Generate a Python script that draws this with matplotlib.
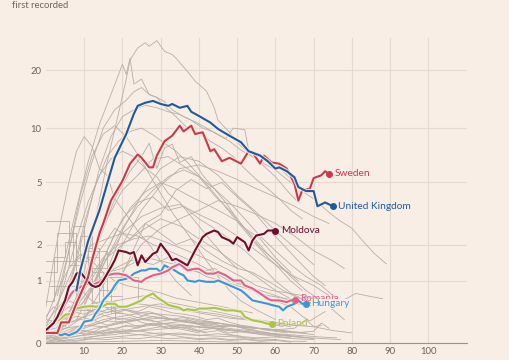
import numpy as np
import matplotlib
matplotlib.use("Agg")
import matplotlib.pyplot as plt
import matplotlib.patheffects as pe

# highlighted countries: day since first recorded, daily deaths per million
uk_days = [8, 9, 11, 14, 16, 18, 21, 23, 24, 26, 28, 30, 32, 33, 35, 37, 38, 40, 43, 45,
           48, 51, 53, 56, 58, 60, 61, 63, 65, 66, 68, 70, 71, 73, 75]
uk_vals = [0.8, 1.25, 2.1, 3.4, 4.9, 6.9, 9.3, 11.9, 13.1, 13.6, 13.9, 13.4, 13.1, 13.4, 12.8,
           13.1, 12.2, 11.6, 10.7, 9.9, 9.1, 8.4, 7.5, 7.1, 6.6, 6.0, 6.1, 5.8, 5.35, 4.7,
           4.45, 4.45, 3.6, 3.8, 3.6]

se_days = [0, 3, 4, 6, 8, 11, 12, 14, 15, 17, 20, 22, 24, 25, 27, 28, 29, 31, 33, 35, 36, 38,
           39, 41, 43, 44, 46, 48, 51, 53, 54, 56, 57, 59, 61, 63, 65, 66, 67, 69, 70, 72, 73, 74]
se_vals = [0.12, 0.12, 0.26, 0.26, 0.56, 1.08, 1.5, 2.4, 2.8, 3.9, 5.1, 6.4, 7.2, 6.9, 6.1, 6.1,
           7.1, 8.5, 9.1, 10.3, 9.6, 10.3, 9.3, 9.5, 7.5, 7.7, 6.6, 6.9, 6.4, 7.5, 7.4, 6.4, 7.1,
           6.5, 6.4, 6.0, 4.9, 3.9, 4.5, 4.6, 5.3, 5.5, 5.8, 5.6]

md_days = [0, 2, 3, 5, 6, 7, 8, 9, 10, 12, 13, 14, 15, 17, 18, 19, 21, 22, 23, 24, 25, 26, 28,
           29, 30, 32, 33, 34, 35, 37, 39, 40, 41, 42, 44, 45, 46, 48, 49, 50, 52, 53, 54, 55,
           57, 58, 60]
md_vals = [0.155, 0.25, 0.34, 0.61, 0.87, 0.98, 1.17, 1.21, 1.09, 0.9, 0.87, 0.9, 1.01, 1.33,
           1.52, 1.81, 1.76, 1.71, 1.76, 1.38, 1.66, 1.47, 1.71, 1.76, 2.03, 1.71, 1.52, 1.56,
           1.5, 1.38, 1.81, 2.03, 2.26, 2.38, 2.51, 2.45, 2.26, 2.14, 2.03, 2.26, 2.08, 1.81,
           2.14, 2.32, 2.38, 2.51, 2.51]

ro_days = [0, 4, 5, 7, 9, 11, 12, 14, 16, 18, 19, 21, 23, 25, 26, 28, 30, 32, 33, 35, 37, 39,
           40, 42, 44, 45, 47, 49, 51, 52, 54, 56, 58, 59, 61, 63, 64, 65]
ro_vals = [0.13, 0.39, 0.55, 0.77, 0.87, 0.94, 0.9, 0.98, 1.13, 1.17, 1.17, 1.13, 1.01, 0.98,
           1.05, 1.13, 1.17, 1.25, 1.33, 1.42, 1.25, 1.29, 1.29, 1.17, 1.17, 1.21, 1.13, 1.01,
           1.01, 0.9, 0.84, 0.74, 0.64, 0.61, 0.61, 0.58, 0.61, 0.61]

hu_days = [1, 2, 4, 5, 6, 8, 9, 10, 12, 13, 14, 15, 17, 18, 19, 21, 22, 23, 25, 26, 27, 29, 30,
           31, 32, 33, 35, 36, 37, 39, 40, 42, 44, 45, 47, 49, 51, 52, 54, 56, 58, 59, 61, 62,
           63, 65, 66, 67, 68]
hu_vals = [0.12, 0.13, 0.09, 0.11, 0.09, 0.13, 0.18, 0.27, 0.29, 0.39, 0.47, 0.61, 0.77, 0.9,
           1.01, 1.05, 1.09, 1.17, 1.25, 1.25, 1.29, 1.29, 1.21, 1.38, 1.33, 1.29, 1.17, 1.13,
           1.01, 0.98, 1.01, 0.98, 0.98, 1.01, 0.94, 0.87, 0.8, 0.74, 0.61, 0.58, 0.55, 0.53,
           0.5, 0.44, 0.5, 0.55, 0.61, 0.55, 0.55]

pl_days = [0, 2, 4, 5, 7, 8, 10, 12, 13, 15, 16, 18, 19, 21, 23, 25, 26, 28, 29, 31, 32, 35,
           36, 37, 39, 40, 42, 44, 45, 47, 49, 51, 52, 54, 56, 58, 59]
pl_vals = [0.155, 0.24, 0.32, 0.37, 0.39, 0.47, 0.5, 0.51, 0.5, 0.51, 0.55, 0.55, 0.5, 0.5,
           0.55, 0.61, 0.67, 0.74, 0.67, 0.58, 0.53, 0.48, 0.44, 0.46, 0.44, 0.47, 0.47, 0.48,
           0.47, 0.44, 0.44, 0.42, 0.34, 0.29, 0.27, 0.24, 0.24]

# other countries, (day, value) pairs
grey_high = [
    [(7, 0.4), (10, 1.2), (13, 3), (16, 6.5), (19, 12), (21, 18), (22, 22.5), (24, 25.9), (26, 27.5),
     (27, 26.4), (29, 28.2), (30, 26.5), (31, 24.9), (33, 24), (34, 23), (37, 19.7), (39, 17.6),
     (42, 15.6), (44, 12.8), (45, 11), (48, 9.5), (51, 8), (54, 7), (57, 6.2), (60, 5.4), (63, 4.5),
     (66, 3.8)],
    [(2, 0.6), (5, 1.6), (8, 3.5), (11, 6.5), (14, 10.5), (17, 15), (19, 19), (20, 21.4), (21, 19),
     (22, 23), (23, 17), (25, 18), (27, 15), (29, 14.5), (31, 13), (34, 11.5), (37, 10), (40, 9.5),
     (43, 8.5), (46, 7.8), (49, 7), (52, 6), (55, 5.2), (58, 4.6), (61, 4), (64, 3.4), (67, 3)],
    [(3, 0.7), (6, 1.8), (9, 3.8), (12, 6.5), (15, 10), (18, 12.5), (21, 14), (23, 15.5), (25, 16.3),
     (27, 15), (29, 14.5), (31, 13.8), (33, 12.5), (36, 11.5), (39, 10.8), (42, 10), (45, 9.2),
     (48, 8.5), (51, 7.6), (54, 7), (57, 6.4), (60, 5.9), (63, 5.2), (66, 4.6), (70, 4), (74, 3.3),
     (77, 2.9), (80, 2.6), (83, 2.1), (86, 1.7), (89, 1.42)],
    [(5, 0.5), (8, 1.5), (11, 3.2), (14, 6), (17, 9), (20, 11.5), (23, 12.5), (26, 13.2), (29, 12.8),
     (32, 12.2), (35, 11.8), (38, 11), (41, 10), (44, 9.5), (47, 8.8), (49, 10), (52, 9.8), (53, 7.6),
     (56, 7.2), (59, 6.5), (62, 5.8), (65, 5)],
    [(4, 0.4), (7, 1.2), (10, 2.8), (13, 4.8), (16, 7), (19, 8.5), (22, 9.6), (25, 10), (28, 9.2),
     (31, 8.3), (34, 7.5), (37, 6.5), (40, 5.5), (43, 4.6), (46, 3.8), (49, 3.1), (52, 2.5), (55, 2),
     (58, 1.6), (61, 1.3), (64, 1.0), (67, 0.8)],
    [(6, 0.3), (10, 0.9), (14, 2.2), (18, 4), (22, 5.8), (25, 7), (27, 8.3), (29, 6), (31, 7.8),
     (33, 8.2), (35, 6.5), (38, 7), (41, 5.5), (44, 4.6), (47, 3.8), (50, 3), (53, 2.4), (56, 1.9),
     (60, 1.5), (64, 1.1), (68, 0.8), (72, 0.6)],
    [(8, 0.3), (12, 0.8), (16, 1.6), (20, 2.6), (24, 3.6), (28, 4.5), (32, 5.4), (36, 5.9), (40, 5.4),
     (44, 4.6), (48, 3.8), (52, 3), (56, 2.3), (60, 1.8), (64, 1.4), (68, 1.1), (72, 0.9), (75, 0.7),
     (78, 0.5)],
    [(3, 0.5), (6, 1.8), (9, 4.2), (12, 7), (15, 9.3), (18, 10.3), (21, 9), (24, 7.2), (27, 5.6),
     (30, 4.3), (33, 3.3), (36, 2.6), (39, 2), (42, 1.5), (45, 1.1), (48, 0.8), (51, 0.6), (55, 0.45),
     (60, 0.3)],
    [(10, 0.5), (14, 1.3), (18, 2.4), (22, 3.5), (26, 4.4), (30, 5), (34, 4.6), (38, 4.1), (42, 3.7),
     (46, 3.3), (50, 2.9), (54, 2.3), (58, 1.7), (62, 1.3), (66, 1.0)],
    [(12, 0.8), (16, 1.8), (20, 3), (24, 3.8), (28, 4.1), (32, 3.4), (36, 3.6), (40, 3), (44, 2.6),
     (48, 2.2), (52, 1.8), (56, 1.4), (60, 1), (64, 0.75), (68, 0.6), (72, 0.5)],
    [(5, 0.2), (10, 0.6), (15, 1.4), (20, 2.4), (25, 3.1), (30, 3.5), (35, 3.7), (40, 3.2), (45, 2.8),
     (50, 2.3), (55, 1.8), (60, 1.4), (65, 1.1), (70, 0.9), (74, 0.7)],
    [(10, 0.3), (15, 0.9), (20, 2), (25, 3.4), (30, 4.8), (35, 6), (40, 6.3), (45, 5.8), (50, 5.2),
     (55, 4.6), (60, 4.1), (65, 3.6), (70, 3.1), (74, 2.8)],
    [(0, 0.5), (2, 1.5), (4, 3), (6, 5), (8, 7.5), (10, 9), (12, 8), (14, 6), (16, 5.5), (18, 4),
     (21, 3.2), (24, 2.5), (27, 2), (30, 1.5), (34, 1), (38, 0.7)],
    [(15, 1), (20, 2.5), (25, 4.2), (30, 6), (35, 7), (40, 6.6), (45, 5.5), (50, 4.2), (55, 3.3),
     (60, 2.5), (65, 1.9), (70, 1.4)],
    [(18, 0.8), (22, 1.6), (26, 2.8), (30, 3.2), (34, 4.5), (38, 5.2), (42, 4.6), (46, 5.0), (50, 4.1),
     (54, 3.4), (58, 2.6), (62, 2.0), (66, 1.5), (70, 1.1), (73, 0.9)],
    [(8, 0.6), (12, 1.6), (16, 3), (20, 4.5), (24, 5.5), (28, 6.8), (32, 7), (36, 6.2), (40, 5.4),
     (44, 4.2), (48, 3.4), (52, 2.6), (56, 2.2), (60, 1.6), (64, 1.2)],
    [(20, 1.2), (25, 2), (30, 2.6), (35, 3), (40, 3.4), (45, 3.9), (50, 3.6), (55, 3.2), (60, 2.8),
     (65, 2.3), (70, 1.8), (75, 1.5), (78, 1.3)],
    [(2, 0.3), (5, 1), (8, 2.2), (11, 3.8), (14, 5.5), (17, 6.8), (20, 7.5), (23, 7), (26, 6),
     (29, 5.4), (32, 4.3), (35, 3.8), (38, 3.1), (41, 2.5), (44, 2), (47, 1.6), (50, 1.3)],
]

# small countries drawn as steps
grey_steps = [
    [(0, 2.9), (3, 2.9), (6, 1.4), (9, 2.3), (12, 1.2), (15, 0.6), (18, 0.6)],
    [(0, 1.2), (3, 2.4), (6, 2.4), (8, 1.5), (11, 1.9), (14, 0.8), (17, 0.4), (20, 0.4)],
    [(0, 0.6), (2, 1.6), (5, 2.1), (8, 1.0), (11, 1.6), (14, 0.5), (18, 0.3)],
    [(0, 1.5), (4, 1.5), (7, 2.7), (10, 1.8), (13, 1.8), (16, 1.1), (20, 1.1), (24, 0.6)],
    [(1, 0.9), (5, 0.9), (8, 0.45), (12, 1.3), (16, 0.7), (20, 0.7)],
]

grey_mid = [
    [(0, 0.2), (4, 0.7), (8, 1.5), (12, 2), (16, 2.2), (20, 2.4), (24, 2.3), (28, 2), (32, 1.8),
     (36, 1.6), (40, 1.4), (44, 1.2), (48, 1), (52, 0.9), (56, 0.8), (60, 0.7), (64, 0.6), (68, 0.5)],
    [(3, 0.2), (7, 0.5), (11, 1), (15, 1.6), (19, 2), (23, 2.2), (27, 2.3), (31, 2.1), (35, 1.9),
     (39, 1.7), (43, 1.5), (47, 1.3), (51, 1.1), (55, 0.9), (59, 0.8), (63, 0.75), (67, 0.7),
     (71, 0.6), (75, 0.45), (78, 0.3)],
    [(5, 0.3), (10, 0.8), (15, 1.5), (20, 2), (25, 2.5), (30, 3), (35, 2.7), (40, 2.2), (45, 1.8),
     (50, 1.4), (55, 1.1), (60, 0.8), (65, 0.6), (70, 0.5)],
    [(2, 0.1), (6, 0.3), (10, 0.6), (14, 1), (18, 1.3), (22, 1.5), (26, 1.6), (30, 1.5), (34, 1.4),
     (38, 1.3), (42, 1.1), (46, 1), (50, 0.9), (54, 0.8), (58, 0.7), (62, 0.65), (66, 0.6), (70, 0.55),
     (74, 0.6), (78, 0.62), (81, 0.74), (85, 0.68), (88, 0.64)],
    [(4, 0.2), (8, 0.5), (12, 0.9), (16, 1.2), (20, 1.3), (24, 1.5), (28, 1.4), (32, 1.6), (36, 1.3),
     (40, 1.2), (44, 1.3), (48, 1.1), (52, 0.9), (56, 0.75), (60, 0.6), (64, 0.5), (67, 0.35),
     (69, 0.28), (71, 0.35), (73, 0.42)],
    [(6, 0.4), (10, 1), (14, 1.8), (18, 2.6), (22, 2.2), (26, 2.8), (30, 2.4), (34, 2.0), (38, 2.2),
     (42, 1.8), (46, 1.5), (50, 1.3), (54, 1.2), (58, 1.0), (62, 0.8), (66, 0.65), (70, 0.55)],
    [(0, 0.3), (3, 0.8), (6, 1.3), (9, 1.7), (12, 1.5), (15, 1.2), (18, 1.0), (21, 0.9), (24, 0.85),
     (27, 0.8), (30, 0.75), (34, 0.65), (38, 0.6), (42, 0.55), (46, 0.5), (50, 0.45), (54, 0.4)],
]

grey_low = [
    [(0, 0.05), (5, 0.1), (10, 0.2), (15, 0.3), (20, 0.35), (25, 0.4), (30, 0.38), (35, 0.35),
     (40, 0.3), (45, 0.25), (50, 0.2), (55, 0.15), (60, 0.1)],
    [(0, 0.02), (5, 0.05), (10, 0.1), (15, 0.15), (20, 0.2), (25, 0.22), (30, 0.25), (35, 0.23),
     (40, 0.2), (45, 0.18), (50, 0.15), (55, 0.12), (60, 0.1), (65, 0.08), (70, 0.05)],
    [(2, 0.1), (6, 0.2), (10, 0.35), (14, 0.5), (18, 0.6), (22, 0.65), (26, 0.7), (30, 0.6),
     (34, 0.55), (38, 0.5), (42, 0.45), (46, 0.4), (50, 0.35), (54, 0.3), (58, 0.25), (62, 0.2)],
    [(0, 0.05), (4, 0.08), (8, 0.12), (12, 0.1), (16, 0.15), (20, 0.12), (24, 0.1), (28, 0.08),
     (32, 0.1), (36, 0.07), (40, 0.05), (44, 0.06), (48, 0.04), (52, 0.05), (56, 0.03), (60, 0.04),
     (64, 0.02), (68, 0.02)],
    [(0, 0.1), (3, 0.15), (6, 0.25), (9, 0.3), (12, 0.28), (15, 0.35), (18, 0.4), (21, 0.45),
     (24, 0.42), (27, 0.5), (30, 0.46), (33, 0.4), (36, 0.38), (39, 0.35), (42, 0.3), (45, 0.32),
     (48, 0.26), (51, 0.22), (54, 0.2), (57, 0.16), (60, 0.14), (63, 0.12)],
    [(1, 0.03), (5, 0.06), (9, 0.12), (13, 0.18), (17, 0.22), (21, 0.28), (25, 0.3), (29, 0.27),
     (33, 0.3), (37, 0.26), (41, 0.22), (45, 0.2), (49, 0.17), (53, 0.15), (57, 0.13), (61, 0.1),
     (65, 0.08), (69, 0.06), (73, 0.05), (77, 0.04)],
    [(0, 0.15), (4, 0.2), (8, 0.3), (12, 0.38), (16, 0.45), (20, 0.5), (24, 0.55), (28, 0.52),
     (32, 0.48), (36, 0.44), (40, 0.4), (44, 0.36), (48, 0.32), (52, 0.3), (56, 0.27), (60, 0.24),
     (64, 0.2)],
    [(0, 0.0), (5, 0.02), (10, 0.04), (15, 0.06), (20, 0.08), (25, 0.1), (30, 0.12), (35, 0.1),
     (40, 0.09), (45, 0.08), (50, 0.07), (55, 0.05), (60, 0.04)],
    [(2, 0.05), (6, 0.1), (10, 0.18), (14, 0.25), (18, 0.32), (22, 0.3), (26, 0.36), (30, 0.33),
     (34, 0.3), (38, 0.28), (42, 0.25), (46, 0.24), (50, 0.2), (54, 0.18), (58, 0.17), (62, 0.15),
     (66, 0.12), (70, 0.1)],
    [(0, 0.2), (3, 0.35), (6, 0.5), (9, 0.45), (12, 0.55), (15, 0.6), (18, 0.5), (21, 0.45),
     (24, 0.4), (27, 0.42), (30, 0.36), (33, 0.3), (36, 0.28), (39, 0.25), (42, 0.2), (45, 0.18),
     (48, 0.15)],
    [(0, 0.08), (4, 0.12), (8, 0.2), (12, 0.22), (16, 0.28), (20, 0.26), (24, 0.3), (28, 0.34),
     (32, 0.3), (36, 0.33), (40, 0.28), (44, 0.26), (48, 0.23), (52, 0.2), (56, 0.18), (60, 0.16),
     (64, 0.14), (68, 0.12)],
    [(3, 0.02), (8, 0.05), (13, 0.08), (18, 0.1), (23, 0.14), (28, 0.16), (33, 0.18), (38, 0.2),
     (43, 0.18), (48, 0.15), (53, 0.12), (58, 0.1), (63, 0.08), (68, 0.06)],
    [(0, 0.25), (2, 0.4), (4, 0.55), (6, 0.7), (8, 0.8), (10, 0.75), (12, 0.6), (15, 0.5),
     (18, 0.42), (21, 0.38), (24, 0.33), (27, 0.3), (30, 0.25), (34, 0.2), (38, 0.16), (42, 0.12)],
    [(0, 0.04), (6, 0.07), (12, 0.1), (18, 0.13), (24, 0.15), (30, 0.2), (36, 0.22), (42, 0.19),
     (48, 0.16), (54, 0.13), (60, 0.11), (66, 0.09), (72, 0.07), (76, 0.06)],
    [(0, 0), (10, 0.01), (20, 0.02), (30, 0.03), (40, 0.02), (50, 0.01), (60, 0.0)],
    [(0, 0.12), (5, 0.18), (10, 0.22), (15, 0.2), (20, 0.25), (25, 0.3), (30, 0.32), (35, 0.28),
     (40, 0.25), (45, 0.22), (50, 0.2), (55, 0.18), (60, 0.15), (65, 0.12), (70, 0.14), (72, 0.25),
     (74, 0.18)],
    [(0, 0.3), (4, 0.25), (8, 0.35), (12, 0.3), (16, 0.22), (20, 0.28), (24, 0.2), (28, 0.25),
     (32, 0.18), (36, 0.22), (40, 0.15), (44, 0.18), (48, 0.12), (52, 0.14), (56, 0.1), (60, 0.08),
     (64, 0.06)],
    [(0, 0.06), (3, 0.1), (6, 0.08), (9, 0.15), (12, 0.12), (15, 0.2), (18, 0.16), (21, 0.22),
     (24, 0.18), (27, 0.24), (30, 0.2), (33, 0.17), (36, 0.2), (39, 0.15), (42, 0.13), (45, 0.15),
     (48, 0.1), (51, 0.08)],
    [(5, 0.1), (10, 0.25), (15, 0.4), (20, 0.45), (25, 0.5), (30, 0.55), (35, 0.45), (40, 0.42),
     (45, 0.38), (50, 0.32), (55, 0.3), (60, 0.26), (65, 0.22), (70, 0.2), (75, 0.15), (80, 0.12)],
    [(0, 0.01), (4, 0.03), (8, 0.02), (12, 0.05), (16, 0.04), (20, 0.06), (24, 0.05), (28, 0.07),
     (32, 0.05), (36, 0.06), (40, 0.04), (44, 0.05), (48, 0.03), (52, 0.04), (56, 0.02), (60, 0.03),
     (64, 0.01)],
    [(1, 0.18), (4, 0.28), (7, 0.42), (10, 0.38), (13, 0.46), (16, 0.4), (19, 0.48), (22, 0.42),
     (25, 0.36), (28, 0.4), (31, 0.34), (34, 0.28), (37, 0.3), (40, 0.24), (43, 0.26), (46, 0.2),
     (49, 0.22), (52, 0.17), (55, 0.15)],
    [(0, 0.08), (5, 0.12), (10, 0.15), (15, 0.12), (20, 0.16), (25, 0.14), (30, 0.1), (35, 0.12),
     (40, 0.09), (45, 0.11), (50, 0.08), (55, 0.06), (60, 0.07), (65, 0.05), (70, 0.04)],
    [(0, 0.35), (2, 0.5), (4, 0.42), (6, 0.6), (8, 0.55), (10, 0.48), (13, 0.4), (16, 0.35),
     (19, 0.3), (22, 0.33), (25, 0.26), (28, 0.22), (31, 0.24), (34, 0.18), (37, 0.15), (40, 0.12)],
    [(10, 0.05), (15, 0.1), (20, 0.14), (25, 0.2), (30, 0.24), (35, 0.27), (40, 0.24), (45, 0.2),
     (50, 0.22), (55, 0.18), (60, 0.16), (65, 0.18), (68, 0.3), (70, 0.2), (72, 0.22)],
]

y_ticks = [0, 1, 2, 5, 10, 20]
x_ticks = [10, 20, 30, 40, 50, 60, 70, 80, 90, 100]

BG = "#f9eee5"
GREY = "#b9afa7"
GRID = "#e6dad0"
TXT = "#6b645e"

plt.rcParams["font.family"] = ["Lato", "DejaVu Sans"]

fig = plt.figure(figsize=(5.1, 3.6), dpi=100, facecolor=BG)
ax = fig.add_axes([0.090, 0.047, 0.825, 0.847])
ax.set_facecolor(BG)
# chart uses a log(1 + x) axis so that zero can be shown
ax.set_yscale("function", functions=(np.log1p, np.expm1))
ax.set_xlim(0, 110)
ax.set_ylim(0, 29)

for yv in y_ticks[1:]:
    ax.axhline(yv, color=GRID, lw=0.8, zorder=0)
for xv in x_ticks:
    ax.axvline(xv, color=GRID, lw=0.8, zorder=0)

for pts in grey_high + grey_mid + grey_low:
    d, v = zip(*pts)
    ax.plot(d, v, color=GREY, lw=0.6, zorder=1)
for pts in grey_steps:
    d, v = zip(*pts)
    ax.plot(d, v, color=GREY, lw=0.6, drawstyle="steps-post", zorder=1)

halo = [pe.Stroke(linewidth=3.2, foreground=BG, alpha=0.8), pe.Normal()]

series = [
    ("Poland", pl_days, pl_vals, "#a8c44c", 0),
    ("Hungary", hu_days, hu_vals, "#3b97d3", 0),
    ("Romania", ro_days, ro_vals, "#e0618c", 1),
    ("Moldova", md_days, md_vals, "#6e0f2c", 0),
    ("Sweden", se_days, se_vals, "#cc3a4a", 0),
    ("United Kingdom", uk_days, uk_vals, "#1f5a9c", 0),
]

for name, d, v, c, dy in series:
    ax.plot(d, v, color=c, lw=1.5, zorder=3, path_effects=halo, solid_joinstyle="round")
    ax.plot(d[-1], v[-1], "o", color=c, ms=4, zorder=4)
    box = None
    if name == "Hungary":
        box = dict(facecolor=BG, edgecolor="none", pad=0.3)
    ax.annotate(name, (d[-1], v[-1]), xytext=(4, dy), textcoords="offset points",
                va="center", ha="left", color=c, fontsize=7.3,
                zorder=5 if name == "Hungary" else 4, bbox=box)

ax.set_yticks(y_ticks)
ax.set_yticklabels([str(t) for t in y_ticks])
ax.set_xticks(x_ticks)
ax.set_xticklabels([str(t) for t in x_ticks])
ax.tick_params(axis="both", length=0, labelsize=6.8, colors=TXT, pad=3)
ax.yaxis.set_minor_locator(matplotlib.ticker.NullLocator())

for s in ["top", "right", "left"]:
    ax.spines[s].set_visible(False)
ax.spines["bottom"].set_color("#9a928b")
ax.spines["bottom"].set_linewidth(0.8)

fig.text(12 / 510, 1 - 8 / 360, "first recorded", color=TXT, fontsize=6.8,
         va="baseline", ha="left")

fig.savefig("out.png", dpi=100, facecolor=BG)
